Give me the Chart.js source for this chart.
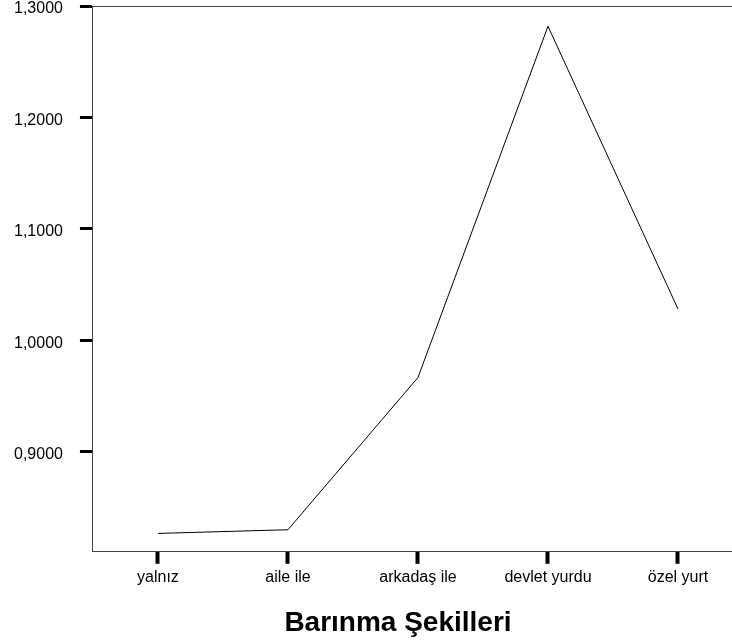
<!DOCTYPE html>
<html>
<head>
<meta charset="utf-8">
<script src="https://cdn.jsdelivr.net/npm/chart.js@4"></script>
<style>
  html, body { margin: 0; padding: 0; background: #fff; overflow: hidden; }
  #wrap { position: relative; width: 732px; height: 643px; overflow: hidden; }
  #title {
    position: absolute; left: 198px; width: 400px; top: 606px;
    text-align: center; font: bold 28px "Liberation Sans", Arial, sans-serif; color: #000;
  }
</style>
</head>
<body>
<div id="wrap">
  <canvas id="chart" width="760" height="643"></canvas>
  <div id="title">Barınma Şekilleri</div>
</div>
<script>
// kategoriler ve ortalama değerler
const categories = ["yalnız", "aile ile", "arkadaş ile", "devlet yurdu", "özel yurt"];
const meanValues = [0.8265, 0.8298, 0.9665, 1.2818, 1.0280];
const yTicks = [0.9, 1.0, 1.1, 1.2, 1.3];
const yMin = 0.81;
const yMax = 1.3;

const font = { family: "'Liberation Sans', Arial, sans-serif", size: 16 };

// üst çerçeve çizgisi
const topBorder = {
    id: "topBorder",
    afterDraw(chart) {
        const { ctx, chartArea } = chart;
        ctx.save();
        ctx.strokeStyle = "#444";
        ctx.lineWidth = 1;
        ctx.beginPath();
        ctx.moveTo(chartArea.left, chartArea.top + 0.5);
        ctx.lineTo(chartArea.right, chartArea.top + 0.5);
        ctx.stroke();
        ctx.restore();
    }
};

const ctx = document.getElementById("chart").getContext("2d");
new Chart(ctx, {
    type: "line",
    data: {
        labels: categories,
        datasets: [{
            data: meanValues,
            borderColor: "#000",
            borderWidth: 1,
            pointRadius: 0,
            tension: 0,
            fill: false
        }]
    },
    options: {
        responsive: false,
        animation: false,
        layout: { padding: { left: -3, right: 17, top: 6, bottom: 52 } },
        plugins: {
            legend: { display: false },
            tooltip: { enabled: false }
        },
        scales: {
            x: {
                offset: true,
                border: { color: "#444", width: 1 },
                grid: {
                    drawOnChartArea: false,
                    drawTicks: true,
                    tickLength: 12,
                    tickWidth: 4,
                    tickColor: "#000"
                },
                ticks: { color: "#000", font: font, padding: 4, maxRotation: 0 }
            },
            y: {
                min: yMin,
                max: yMax,
                border: { color: "#444", width: 1 },
                grid: {
                    drawOnChartArea: false,
                    drawTicks: true,
                    tickLength: 13,
                    tickWidth: 3,
                    tickColor: "#000"
                },
                afterBuildTicks: axis => {
                    axis.ticks = yTicks.map(v => ({ value: v }));
                },
                afterFit: axis => {
                    axis.paddingTop = 0;
                    axis.paddingBottom = 0;
                },
                ticks: {
                    color: "#000",
                    font: font,
                    padding: 17,
                    labelOffset: 3,
                    callback: v => v.toFixed(4).replace(".", ",")
                }
            }
        }
    },
    plugins: [topBorder]
});
</script>
</body>
</html>
